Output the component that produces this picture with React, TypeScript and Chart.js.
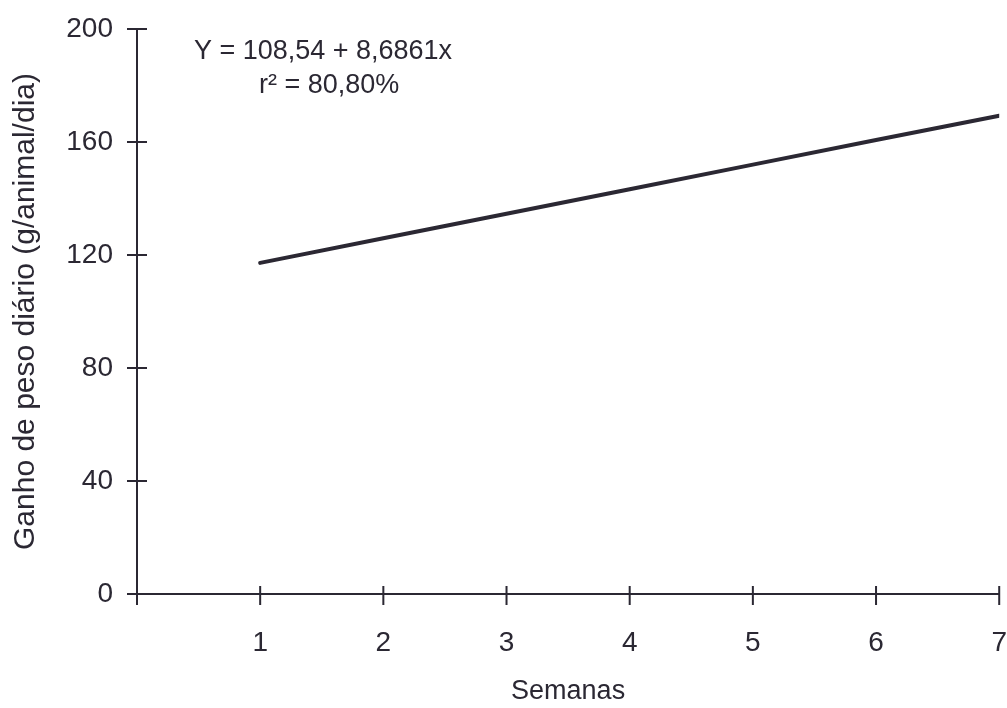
import React, { useEffect, useRef } from "react";
import { Chart, registerables } from "chart.js";

Chart.register(...registerables);

const semanas = [1, 2, 3, 4, 5, 6, 7];
const ganhoPeso = [117.2, 125.9, 134.6, 143.3, 152.0, 160.7, 169.3];
const yTicks = [0, 40, 80, 120, 160, 200];
const annotationLines = ["Y = 108,54 + 8,6861x", "r² = 80,80%"];
const annotationX = [1.51, 1.56];
const annotationY = [192, 180];

const INK = "#2b2833";
const FONT = "'Liberation Sans', Arial, sans-serif";

export default function App() {
  const ref = useRef<HTMLCanvasElement | null>(null);

  useEffect(() => {
    if (!ref.current) return;
    const crossTicks = {
      id: "crossTicks",
      afterDraw(chart: any) {
        const { ctx, scales } = chart;
        const xs = scales.x;
        const ys = scales.y;
        const x0 = xs.getPixelForValue(0);
        const y0 = ys.getPixelForValue(0);
        ctx.save();
        ctx.strokeStyle = INK;
        ctx.lineWidth = 2;
        ctx.beginPath();
        xs.ticks.forEach((t: any) => {
          const px = xs.getPixelForValue(t.value);
          ctx.moveTo(px, y0 - 8);
          ctx.lineTo(px, y0 + 11);
        });
        ys.ticks.forEach((t: any) => {
          const py = ys.getPixelForValue(t.value);
          ctx.moveTo(x0 - 10, py);
          ctx.lineTo(x0 + 10, py);
        });
        ctx.stroke();
        // annotation text
        ctx.fillStyle = INK;
        ctx.font = `27px ${FONT}`;
        ctx.textAlign = "center";
        ctx.textBaseline = "middle";
        annotationLines.forEach((s, i) => {
          ctx.fillText(s, xs.getPixelForValue(annotationX[i]), ys.getPixelForValue(annotationY[i]));
        });
        ctx.restore();
      },
    };

    const chart = new Chart(ref.current, {
      type: "line",
      data: {
        datasets: [
          {
            data: semanas.map((s, i) => ({ x: s, y: ganhoPeso[i] })),
            borderColor: INK,
            borderWidth: 4,
            pointRadius: 0,
            borderCapStyle: "round",
            tension: 0,
          },
        ],
      },
      options: {
        animation: false,
        responsive: true,
        maintainAspectRatio: false,
        layout: { autoPadding: false, padding: { top: 29, right: 6, left: 0, bottom: 0 } },
        plugins: { legend: { display: false }, tooltip: { enabled: false } },
        scales: {
          x: {
            type: "linear",
            min: 0,
            max: 7,
            afterFit: (s: any) => {
              s.height = 114;
            },
            ticks: {
              stepSize: 1,
              color: INK,
              font: { family: FONT, size: 28 },
              padding: 0,
              maxRotation: 0,
              callback: (v: any) => (v === 0 ? "" : String(v)),
            },
            grid: {
              display: true,
              drawOnChartArea: false,
              drawTicks: true,
              tickLength: 32,
              tickColor: "rgba(0,0,0,0)",
            },
            border: { display: true, color: INK, width: 2 },
            title: {
              display: true,
              text: "Semanas",
              color: INK,
              font: { family: FONT, size: 27 },
              padding: { top: 0, bottom: 0 },
            },
          },
          y: {
            type: "linear",
            min: 0,
            max: 200,
            afterFit: (s: any) => {
              s.width = 137;
            },
            afterBuildTicks: (s: any) => {
              s.ticks = yTicks.map((v) => ({ value: v }));
            },
            ticks: {
              color: INK,
              font: { family: FONT, size: 28 },
              padding: 0,
            },
            grid: {
              display: true,
              drawOnChartArea: false,
              drawTicks: true,
              tickLength: 24,
              tickColor: "rgba(0,0,0,0)",
            },
            border: { display: true, color: INK, width: 2 },
            title: {
              display: true,
              text: "Ganho de peso diário (g/animal/dia)",
              color: INK,
              font: { family: FONT, size: 30 },
              padding: { top: 8, bottom: 8 },
            },
          },
        },
      },
      plugins: [crossTicks],
    });
    return () => chart.destroy();
  }, []);

  return (
    <div style={{ position: "absolute", left: 0, top: 0, width: 1007, height: 708, background: "#fff" }}>
      <canvas ref={ref} />
    </div>
  );
}
